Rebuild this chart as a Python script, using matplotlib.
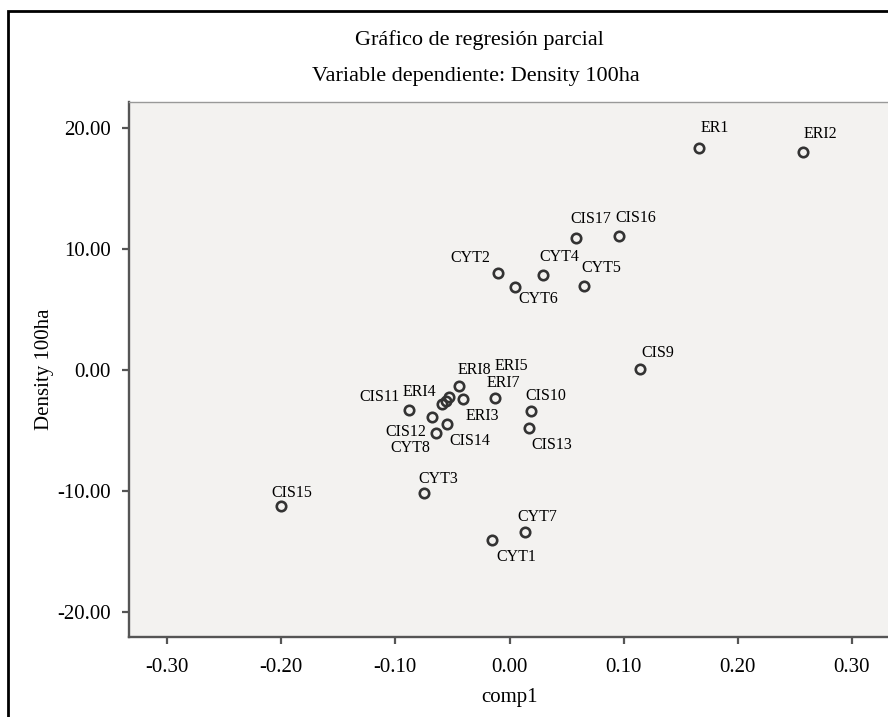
import matplotlib.pyplot as plt
from matplotlib.patches import Rectangle
from matplotlib.ticker import FormatStrFormatter

# point names (one point in the cluster has no visible label)
labels = ["ER1", "ERI2", "CIS17", "CIS16", "CYT2", "CYT4", "CYT6", "CYT5",
          "CIS9", "ERI8", "ERI3", "ERI5", "", "ERI4", "CIS11", "CIS12",
          "CIS14", "CYT8", "ERI7", "CIS10", "CIS13", "CIS15", "CYT3",
          "CYT1", "CYT7"]
comp1 = [0.166, 0.257, 0.058, 0.096, -0.010, 0.029, 0.005, 0.065,
         0.114, -0.044, -0.041, -0.053, -0.056, -0.059, -0.088, -0.068,
         -0.055, -0.064, -0.013, 0.019, 0.017, -0.200, -0.075,
         -0.015, 0.014]
density = [18.34, 17.98, 10.90, 11.04, 7.97, 7.83, 6.86, 6.89,
           0.08, -1.30, -2.43, -2.22, -2.55, -2.85, -3.32, -3.93,
           -4.51, -5.25, -2.35, -3.38, -4.79, -11.26, -10.23,
           -14.11, -13.42]

x_ticks = [-0.30, -0.20, -0.10, 0.00, 0.10, 0.20, 0.30]
y_ticks = [-20, -10, 0, 10, 20]

# where each label sits relative to its point (pixels)
label_offsets = {
    "ER1": (16, 20), "ERI2": (18, 18), "CIS17": (15, 19), "CIS16": (17, 18),
    "CYT2": (-28, 15), "CYT4": (17, 18), "CYT6": (23, -12), "CYT5": (18, 18),
    "CIS9": (18, 16), "ERI8": (15, 16), "ERI3": (20, -17), "ERI5": (62, 31),
    "ERI4": (-23, 12), "CIS11": (-30, 13), "CIS12": (-26, -15),
    "CIS14": (23, -17), "CYT8": (-26, -15), "ERI7": (9, 15),
    "CIS10": (15, 15), "CIS13": (23, -17), "CIS15": (11, 13),
    "CYT3": (14, 14), "CYT1": (24, -17), "CYT7": (12, 15),
}

plt.rcParams['font.family'] = ['Liberation Serif', 'DejaVu Serif']
plt.rcParams['axes.unicode_minus'] = False

W, H = 888, 717
fig = plt.figure(figsize=(W / 100, H / 100), dpi=100)
ax = fig.add_axes([129 / W, (H - 637) / H, 761 / W, 535 / H])
ax.set_facecolor('#f3f2f0')

ax.plot(comp1, density, 'o', ms=6.8, mfc='none', mec='#333333', mew=1.9)
for name, x, y in zip(labels, comp1, density):
    if name:
        ax.annotate(name, (x, y), xytext=label_offsets[name],
                    textcoords='offset pixels', ha='center', va='center',
                    fontsize=11.5)

ax.set_xlim(-0.3333, 0.3333)
ax.set_ylim(-22.1, 22.15)
ax.set_xticks(x_ticks)
ax.set_yticks(y_ticks)
ax.xaxis.set_major_formatter(FormatStrFormatter('%.2f'))
ax.yaxis.set_major_formatter(FormatStrFormatter('%.2f'))
ax.tick_params(labelsize=15, length=5, width=1.6, color='#555555', pad=8)
ax.tick_params(axis='x', pad=10)

for side in ['left', 'bottom']:
    ax.spines[side].set_color('#555555')
    ax.spines[side].set_linewidth(1.7)
ax.spines['top'].set_color('#999999')
ax.spines['top'].set_linewidth(1.0)
ax.spines['right'].set_visible(False)

ax.set_xlabel('comp1', fontsize=15, labelpad=8)
ax.set_ylabel('Density 100ha', fontsize=15, labelpad=2.5)

fig.text(479 / W, 1 - 40 / H, 'Gráfico de regresión parcial',
         ha='center', va='center', fontsize=16)
fig.text(476 / W, 1 - 77 / H, 'Variable dependiente: Density 100ha',
         ha='center', va='center', fontsize=16)

# outer frame, cut off at the right and bottom like the source
fig.add_artist(Rectangle((8 / W, -0.1), 1.0, 0.1 + (H - 11) / H,
                         transform=fig.transFigure, fill=False,
                         lw=2, ec='black'))

fig.savefig('out.png', dpi=100)
